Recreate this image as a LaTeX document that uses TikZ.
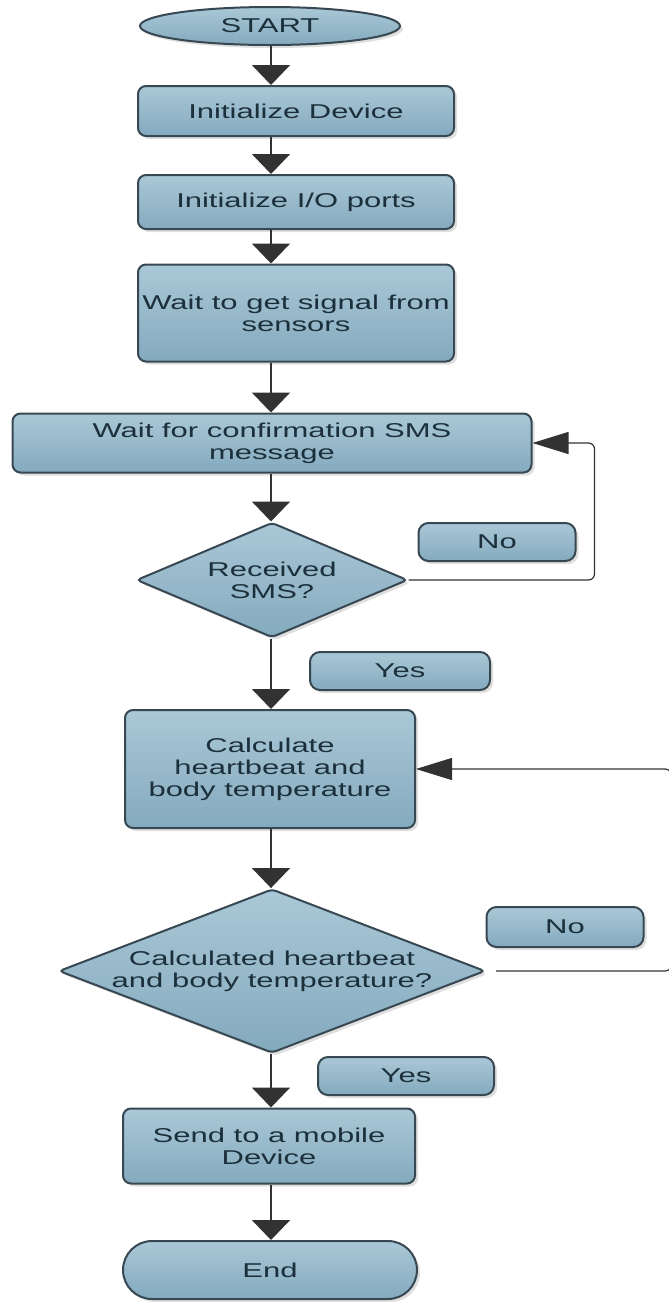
\documentclass[tikz,border=0pt]{standalone}
\usepackage{fontspec}
\setmainfont[FakeStretch=1.55]{Liberation Sans}
\usetikzlibrary{shapes.geometric,shapes.misc,arrows.meta,shadows}
\definecolor{boxtop}{RGB}{170,200,215}
\definecolor{boxbot}{RGB}{132,170,190}
\definecolor{boxline}{RGB}{55,72,82}
\definecolor{boxtext}{RGB}{28,48,60}
\definecolor{arrline}{RGB}{50,50,50}
\begin{document}
\begin{tikzpicture}[x=0.5pt,y=-0.5pt,
    blk/.style={draw=boxline,line width=1pt,top color=boxtop,bottom color=boxbot,
      text=boxtext,font=\fontsize{10}{11}\selectfont,align=center,inner sep=0pt,
      drop shadow={shadow xshift=1.5pt,shadow yshift=-1.5pt,opacity=.25}},
    proc/.style={blk,rectangle,rounded corners=4pt},
    tag/.style={blk,rectangle,rounded corners=5pt},
    ask/.style={blk,diamond,aspect=2.6,rounded corners=2pt},
    arr/.style={draw=arrline,line width=1pt,-{Triangle[length=10pt,width=19pt]}},
    back/.style={draw=arrline,line width=.6pt,rounded corners=3pt,-{Triangle[length=18pt,width=11pt]}}]
  \useasboundingbox (0,0) rectangle (669,1302);
  \coordinate (axis) at (271,0);
  \node[blk,ellipse,minimum width=130pt,minimum height=19pt] (start) at (270,26) {START};
  \node[proc,minimum width=158pt,minimum height=25pt] (init) at (296,111) {Initialize Device};
  \node[proc,minimum width=158pt,minimum height=27pt] (ports) at (296,202) {Initialize I/O ports};
  \node[proc,minimum width=158pt,minimum height=48.5pt] (wait) at (296,313) {Wait to get signal from\\sensors};
  \node[proc,minimum width=259.5pt,minimum height=29.5pt] (conf) at (272,443) {Wait for confirmation SMS\\message};
  \node[ask,minimum width=135.5pt,minimum height=57.5pt] (recv) at (272,580) {Received\\SMS?};
  \node[tag,minimum width=78.5pt,minimum height=19pt] (no1) at (497,542) {No};
  \node[tag,minimum width=90pt,minimum height=19pt] (yes1) at (400,671) {Yes};
  \node[proc,minimum width=145pt,minimum height=59pt] (calc) at (270,769) {Calculate\\heartbeat and\\body temperature};
  \node[ask,minimum width=212.5pt,minimum height=81.5pt] (calcq) at (272,971) {Calculated heartbeat\\and body temperature?};
  \node[tag,minimum width=78.5pt,minimum height=20pt] (no2) at (565,927) {No};
  \node[tag,minimum width=88pt,minimum height=19pt] (yes2) at (406,1076) {Yes};
  \node[proc,minimum width=146pt,minimum height=37.5pt] (send) at (269,1146) {Send to a mobile\\Device};
  \node[blk,rounded rectangle,minimum width=147pt,minimum height=29pt] (stop) at (270,1270) {End};
  % main flow
  \foreach \a/\b in {start/init,init/ports,ports/wait,wait/conf,conf/recv,recv/calc,calc/calcq,calcq/send,send/stop}
    \draw[arr] (axis |- \a.south) -- (axis |- \b.north);
  % loops back
  \draw[back] (recv.east) -- ++(186,0) |- (conf.east);
  \draw[back] (calcq.east) ++(10,0) -- ++(175,0) |- (calc.east);
\end{tikzpicture}
\end{document}
